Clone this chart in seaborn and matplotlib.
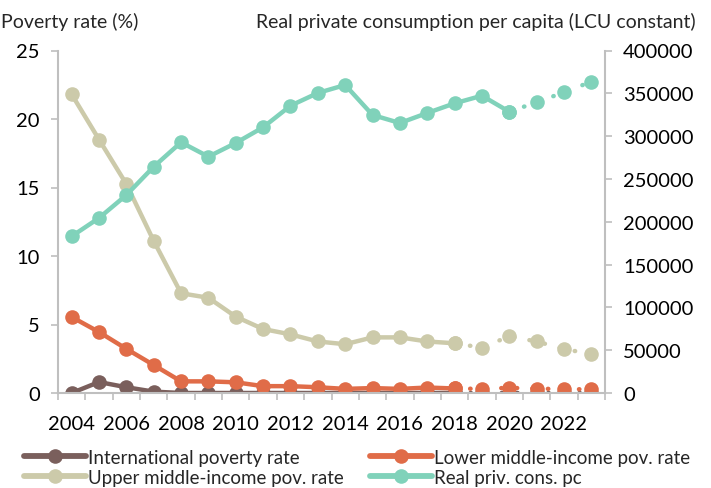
import numpy as np
import pandas as pd
import matplotlib
matplotlib.use("Agg")
import matplotlib.pyplot as plt
from matplotlib.lines import Line2D
import seaborn as sns

years = list(range(2004, 2024))
intl_pov = [0.0, 0.8, 0.42, 0.1, 0.0, 0.0, 0.0, 0.0, 0.0, 0.0, 0.0, 0.0, 0.0, 0.0, 0.0, 0.0, 0.0, 0.0, 0.0, 0.0]
lower_pov = [5.55, 4.45, 3.22, 2.04, 0.85, 0.85, 0.78, 0.5, 0.5, 0.42, 0.3, 0.36, 0.3, 0.4, 0.33, 0.3, 0.38, 0.32, 0.28, 0.27]
upper_pov = [21.8, 18.5, 15.25, 11.1, 7.28, 6.95, 5.57, 4.67, 4.28, 3.76, 3.56, 4.06, 4.06, 3.76, 3.63, 3.31, 4.14, 3.76, 3.22, 2.83]
priv_cons = [183000, 204400, 231200, 264300, 292800, 276000, 292000, 310300, 335500, 350400, 359700,
             324700, 315300, 327000, 338300, 347200, 328500, 339500, 351200, 363600]

pov_last_actual = 2018
cons_last_actual = 2020

labels = ["International poverty rate", "Lower middle-income pov. rate",
          "Upper middle-income pov. rate", "Real priv. cons. pc"]
colors = ["#7A5F5C", "#E06C48", "#CCCAAA", "#80D2BA"]

sns.set_theme(style="white")
plt.rcParams["font.family"] = ["Lato", "DejaVu Sans"]
FS_TICK = 14.5
FS_TITLE = 14
FS_LEG = 13.5

df = pd.DataFrame({"year": years, "intl": intl_pov, "lower": lower_pov,
                   "upper": upper_pov, "cons": priv_cons})

fig = plt.figure(figsize=(7.11, 4.89), dpi=100)
ax = fig.add_axes([58/711, 1 - 394/489, (605-58)/711, (394-51.5)/489])
ax2 = ax.twinx()

LW = 3.2
MS = 10.5
dots = (0, (0.1, 3.4))

def draw(axis, col, color, cut):
    solid = df[df["year"] <= cut]
    dotted = df[df["year"] >= cut]
    sns.lineplot(data=solid, x="year", y=col, ax=axis, color=color, lw=LW,
                 marker="o", markersize=MS, markeredgewidth=0, legend=False,
                 solid_capstyle="round")
    sns.lineplot(data=dotted, x="year", y=col, ax=axis, color=color, lw=LW,
                 marker="o", markersize=MS, markeredgewidth=0, legend=False,
                 linestyle=dots, dash_capstyle="round")

draw(ax, "intl", colors[0], pov_last_actual)
draw(ax, "lower", colors[1], pov_last_actual)
draw(ax, "upper", colors[2], pov_last_actual)
draw(ax2, "cons", colors[3], cons_last_actual)

ax.set_xlim(2003.5, 2023.5)
ax.set_ylim(0, 25)
ax2.set_ylim(0, 400000)
ax.set_yticks([0, 5, 10, 15, 20, 25])
ax2.set_yticks(np.arange(0, 400001, 50000))
ax2.set_yticklabels([str(v) for v in range(0, 400001, 50000)])
ax.set_xticks(range(2004, 2024, 2))
ax.set_xticks(np.arange(2003.5, 2024, 1), minor=True)
for a in (ax, ax2):
    a.set_xlabel("")
    a.set_ylabel("")

grey = "#BFBFBF"
for a in (ax, ax2):
    for s in a.spines.values():
        s.set_visible(False)
for a, side in ((ax, "left"), (ax, "bottom"), (ax2, "right")):
    a.spines[side].set_visible(True)
    a.spines[side].set_color(grey)
    a.spines[side].set_linewidth(1.5)

ax.tick_params(axis="y", left=True, length=5, width=1.2, color=grey, labelsize=FS_TICK, pad=8, labelcolor="black")
ax.tick_params(axis="x", which="major", bottom=False, labelsize=FS_TICK, pad=10, labelcolor="black")
ax.tick_params(axis="x", which="minor", bottom=True, length=5, width=1.2, color=grey)
ax2.tick_params(axis="y", right=True, length=5, width=1.2, color=grey, labelsize=FS_TICK, pad=8, labelcolor="black")

fig.text(1/711, 1 - 22/489, "Poverty rate (%)", fontsize=FS_TITLE, va="center", ha="left")
fig.text(696/711, 1 - 22/489, "Real private consumption per capita (LCU constant)",
         fontsize=FS_TITLE, va="center", ha="right")

handles = [Line2D([], [], color=c, lw=LW + 1, marker="o", markersize=MS, markeredgewidth=0)
           for c in colors]
order = [0, 2, 1, 3]
fig.legend([handles[i] for i in order], [labels[i] for i in order], ncol=2,
           loc="upper left", bbox_to_anchor=(24/711, 1 - 450/489), frameon=False,
           fontsize=FS_LEG, handlelength=3.3, handletextpad=0.1, columnspacing=1.4,
           labelspacing=0.15, borderaxespad=0, borderpad=0)

fig.savefig("out.png", dpi=100)
